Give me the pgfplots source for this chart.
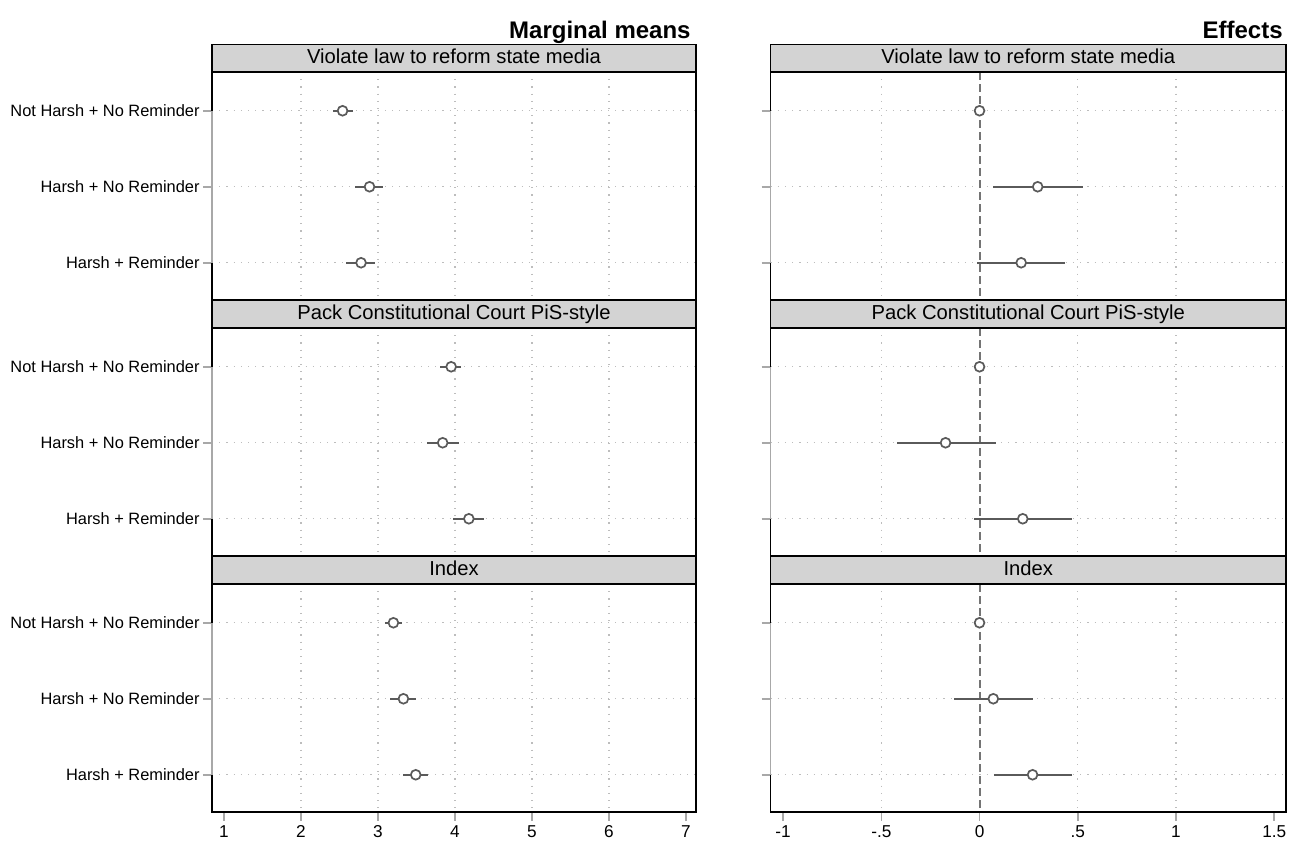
\documentclass[border=0pt]{standalone}
\usepackage{fontspec}
\setmainfont{Liberation Sans}
\usepackage{pgfplots}
\usepackage{pgfplotstable}
\pgfplotsset{compat=1.18}
\definecolor{hdr}{HTML}{D3D3D3}
\definecolor{mk}{HTML}{5A5A5A}
\definecolor{axg}{HTML}{A8A8A8}
\definecolor{gd}{HTML}{BDBDBD}
\definecolor{zl}{HTML}{747474}

% row, mean, lower, upper
\pgfplotstableread{
r m lo hi
1 2.54 2.42 2.67
2 2.89 2.70 3.07
3 2.78 2.59 2.96
}\tLa
\pgfplotstableread{
r m lo hi
1 3.95 3.81 4.08
2 3.84 3.63 4.05
3 4.18 3.98 4.38
}\tLb
\pgfplotstableread{
r m lo hi
1 3.20 3.09 3.31
2 3.33 3.16 3.49
3 3.49 3.32 3.65
}\tLc
\pgfplotstableread{
r m lo hi
1 0 0 0
2 0.296 0.068 0.525
3 0.212 -0.014 0.437
}\tRa
\pgfplotstableread{
r m lo hi
1 0 0 0
2 -0.173 -0.42 0.085
3 0.22 -0.03 0.47
}\tRb
\pgfplotstableread{
r m lo hi
1 0 0 0
2 0.07 -0.13 0.27
3 0.27 0.073 0.47
}\tRc

\pgfplotsset{
  panel/.style={
    scale only axis, height=114pt, anchor=south west,
    ymin=0.49, ymax=3.49, y dir=reverse,
    ytick={1,2,3},
    axis line style={black, line width=0.9pt},
    tick style={axg, line width=0.8pt},
    tick align=outside, major tick length=4.5pt,
    xtick pos=lower, ytick pos=left,
    ymajorgrids,
    grid style={gd, line width=0.6pt, dash pattern=on 0.6pt off 3pt},
    clip=false,
    yticklabel style={font=\fontsize{8.2}{9.6}\selectfont, inner sep=1.5pt},
    xticklabel style={font=\fontsize{8.6}{10}\selectfont, inner sep=2pt},
    /pgf/number format/assume math mode=true,
    extra x tick style={grid=major, major tick length=0pt},
    extra x tick labels={},
    xtick=\empty,
  },
  leftp/.style={panel, width=242pt, xmin=0.844, xmax=7.13,
    extra x ticks={2,3,4,5,6},
    yticklabels={Not Harsh + No Reminder, Harsh + No Reminder, Harsh + Reminder}},
  rightp/.style={panel, width=257.75pt, xmin=-1.064, xmax=1.56,
    extra x ticks={-0.5,0.5,1},
    yticklabels={}},
  ci/.style={mk, only marks, mark=*, mark size=2.45pt,
    mark options={fill=white, draw=mk, line width=0.85pt},
    error bars/.cd, x dir=both, x explicit, error mark=none,
    error bar style={line width=1pt, mk}},
}
\newcommand{\plotci}[1]{\addplot[ci] table[x=m, y=r,
    x error plus expr=\thisrow{hi}-\thisrow{m},
    x error minus expr=\thisrow{m}-\thisrow{lo}] {#1};}
\newcommand{\header}[2]{%
  \draw[fill=hdr, line width=0.9pt] (#1.north west) rectangle ([yshift=13.75pt]#1.north east);
  \node[font=\fontsize{10.1}{12}\selectfont, inner sep=0pt] at ([yshift=6.9pt]#1.north) {\strut #2};}

\begin{document}
\begin{tikzpicture}
\useasboundingbox (0pt,0pt) rectangle (648pt,421pt);

% ---------- Left column: Marginal means ----------
\begin{axis}[leftp, name=L1, at={(106pt,271pt)}]
  \draw[axg, line width=0.9pt] (axis cs:0.844,1) -- (axis cs:0.844,3);
  \plotci{\tLa}
\end{axis}
\begin{axis}[leftp, name=L2, at={(106pt,143pt)}]
  \draw[axg, line width=0.9pt] (axis cs:0.844,1) -- (axis cs:0.844,3);
  \plotci{\tLb}
\end{axis}
\begin{axis}[leftp, name=L3, at={(106pt,15pt)}, xtick={1,2,3,4,5,6,7}]
  \draw[axg, line width=0.9pt] (axis cs:0.844,1) -- (axis cs:0.844,3);
  \plotci{\tLc}
\end{axis}

% ---------- Right column: Effects ----------
\begin{axis}[rightp, name=R1, at={(385.25pt,271pt)}]
  \draw[axg, line width=0.9pt] (axis cs:-1.064,1) -- (axis cs:-1.064,3);
  \draw[zl, line width=1pt, dash pattern=on 4pt off 2pt] (axis cs:0,0.49) -- (axis cs:0,3.49);
  \plotci{\tRa}
\end{axis}
\begin{axis}[rightp, name=R2, at={(385.25pt,143pt)}]
  \draw[axg, line width=0.9pt] (axis cs:-1.064,1) -- (axis cs:-1.064,3);
  \draw[zl, line width=1pt, dash pattern=on 4pt off 2pt] (axis cs:0,0.49) -- (axis cs:0,3.49);
  \plotci{\tRb}
\end{axis}
\begin{axis}[rightp, name=R3, at={(385.25pt,15pt)},
    xtick={-1,-0.5,0,0.5,1,1.5}, xticklabels={-1,-.5,0,.5,1,1.5}]
  \draw[axg, line width=0.9pt] (axis cs:-1.064,1) -- (axis cs:-1.064,3);
  \draw[zl, line width=1pt, dash pattern=on 4pt off 2pt] (axis cs:0,0.49) -- (axis cs:0,3.49);
  \plotci{\tRc}
\end{axis}

\header{L1}{Violate law to reform state media}
\header{L2}{Pack Constitutional Court PiS-style}
\header{L3}{Index}
\header{R1}{Violate law to reform state media}
\header{R2}{Pack Constitutional Court PiS-style}
\header{R3}{Index}

\node[anchor=base east, font=\fontsize{12}{14}\selectfont\bfseries, inner sep=0pt] at (345.5pt,401.5pt) {Marginal means};
\node[anchor=base east, font=\fontsize{12}{14}\selectfont\bfseries, inner sep=0pt] at (641.5pt,401.5pt) {Effects};
\end{tikzpicture}
\end{document}
